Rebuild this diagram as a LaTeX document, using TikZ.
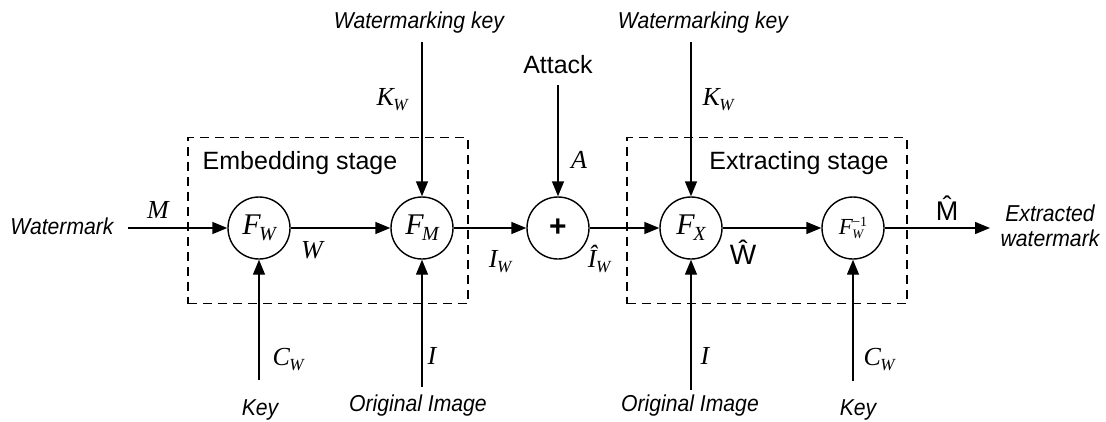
\documentclass[tikz,border=0pt]{standalone}
\usepackage{fontspec}
\setmainfont{Liberation Sans}
\newfontfamily\tms{Liberation Serif}
\newfontfamily\itl[FakeStretch=0.92]{Liberation Sans}
\usetikzlibrary{arrows.meta}
\newcommand\mvar[1]{{\tms\itshape\fontsize{26}{26}\selectfont #1}}
\newcommand\mlab[2]{{\tms\itshape\fontsize{26}{26}\selectfont #1\kern-0.5pt\raisebox{-5pt}{\fontsize{17}{17}\selectfont #2}}}
\newcommand\flab[1]{{\tms\itshape\fontsize{30}{30}\selectfont F\kern-1.5pt\raisebox{-6pt}{\fontsize{20}{20}\selectfont #1}}}
\begin{document}
\begin{tikzpicture}[x=1pt,y=-1pt,
  blk/.style={circle,draw,line width=1.4pt,minimum size=62pt,inner sep=0pt},
  arr/.style={line width=1.4pt,-{Triangle[length=15pt,width=12pt]}},
  stagebox/.style={draw,line width=1.4pt,dash pattern=on 9pt off 6pt,minimum width=280pt,minimum height=166pt,inner sep=0pt},
  stagetxt/.style={font=\fontsize{25}{25}\selectfont,inner sep=0pt},
  itxt/.style={font=\itl\itshape\fontsize{23}{25}\selectfont,inner sep=0pt,align=center},
  lbl/.style={inner sep=0pt}]
\useasboundingbox (0,0) rectangle (1106,421);

% stage boxes
\node[stagebox] (emb) at (328,220.5) {};
\node[stagebox] (ext) at (767,220.5) {};
\node[stagetxt] (embt) at (300,163) {Embedding stage};
\node[stagetxt] (extt) at (799,163) {Extracting stage};

% blocks
\node[blk] (fw) at (259,228) {\flab{W}};
\node[blk] (fm) at (422,228) {\flab{M}};
\node[blk] (add) at (558,228) {\fontsize{30}{30}\selectfont\bfseries +};
\node[blk] (fx) at (691,228) {\flab{X}};
\node[blk] (fwi) at (853,228) {{\tms\itshape\fontsize{23}{23}\selectfont F\kern-0.5pt\raisebox{-4pt}{\fontsize{13}{13}\selectfont W}\kern-11pt\raisebox{8pt}{\upshape\fontsize{14}{14}\selectfont −1}}};

% texts
\node[itxt] (wm) at (62,226) {Watermark};
\node[itxt] (extw) at (1050,226) {Extracted\\watermark};
\node[itxt] (wk1) at (419,23) {Watermarking key};
\node[itxt] (wk2) at (703,23) {Watermarking key};
\node[stagetxt] (atk) at (558,65) {Attack};
\node[itxt] (key1) at (260,410) {Key};
\node[itxt] (oi1) at (418,406) {Original Image};
\node[itxt] (oi2) at (690,406) {Original Image};
\node[itxt] (key2) at (858,410) {Key};

% free ends
\coordinate (s0) at (128,228);
\coordinate (e0) at (990,228);
\coordinate (k1) at (422,42);
\coordinate (a0) at (558,85);
\coordinate (k2) at (691,42);
\coordinate (b1) at (259,380);
\coordinate (b2) at (422,387);
\coordinate (b3) at (691,390);
\coordinate (b4) at (853,381);

% connectors
\draw[arr] (s0) -- (fw.west);
\draw[arr] (fw.east) -- (fm.west);
\draw[arr] (fm.east) -- (add.west);
\draw[arr] (add.east) -- (fx.west);
\draw[arr] (fx.east) -- (fwi.west);
\draw[arr] (fwi.east) -- (e0);
\draw[arr] (k1) -- (fm.north);
\draw[arr] (a0) -- (add.north);
\draw[arr] (k2) -- (fx.north);
\draw[arr] (b1) -- (fw.south);
\draw[arr] (b2) -- (fm.south);
\draw[arr] (b3) -- (fx.south);
\draw[arr] (b4) -- (fwi.south);

% labels
\node[lbl] (lM) at (158,210) {\mvar{M}};
\node[lbl] (lW) at (312,250) {\mvar{W}};
\node[lbl] (lIW) at (500,262) {\mlab{I}{W}};
\node[lbl] (lhIW) at (599,259) {\mlab{\^I}{W}};
\node[lbl] (lhW) at (743,252) {\fontsize{28}{28}\selectfont Ŵ};
\node[lbl] (lhM) at (947,208) {\fontsize{27}{27}\selectfont \^M};
\node[lbl] (lK1) at (392,100) {\mlab{K}{W}};
\node[lbl] (lK2) at (718,100) {\mlab{K}{W}};
\node[lbl] (lA) at (579,160) {\mvar{A}};
\node[lbl] (lC1) at (288,360) {\mlab{C}{W}};
\node[lbl] (lI1) at (432,356) {\mvar{I}};
\node[lbl] (lI2) at (705,356) {\mvar{I}};
\node[lbl] (lC2) at (879,360) {\mlab{C}{W}};
\end{tikzpicture}
\end{document}
